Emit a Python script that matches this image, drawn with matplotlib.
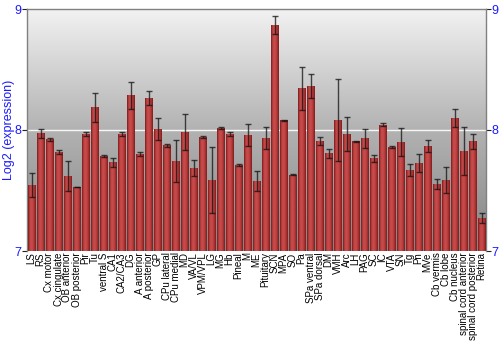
import numpy as np
import matplotlib
matplotlib.use("Agg")
import matplotlib.pyplot as plt
from matplotlib.colors import LinearSegmentedColormap

regions = ["LS", "RS", "Cx motor", "Cx cingulate", "OB anterior", "OB posterior", "Pir", "Tu",
           "ventral S", "CA1", "CA2/CA3", "DG", "A anterior", "A posterior", "GP", "CPu lateral",
           "CPu medial", "MD", "VA/VL", "VPM/VPL", "LG", "MG", "Hb", "Pineal", "M", "ME",
           "Pituitary", "SCN", "MPA", "SO", "Pa", "SPa ventral", "SPa dorsal", "DM", "VMH", "Arc",
           "LH", "PAG", "SC", "IC", "VTA", "SN", "Tg", "Pn", "MVe", "Cb vermis", "Cb lobe",
           "Cb nucleus", "spinal cord anterior", "spinal cord posterior", "Retina"]
values = [7.545, 7.973, 7.923, 7.818, 7.62, 7.529, 7.967, 8.188,
          7.785, 7.733, 7.967, 8.287, 7.80, 8.264, 8.008, 7.873,
          7.744, 7.983, 7.686, 7.94, 7.587, 8.017, 7.967, 7.711, 7.961, 7.579,
          7.937, 8.865, 8.08, 7.631, 8.344, 8.364, 7.909, 7.807, 8.08, 7.967,
          7.906, 7.931, 7.766, 8.044, 7.86, 7.898, 7.669, 7.727, 7.868, 7.556, 7.587,
          8.099, 7.826, 7.906, 7.273]
errors = [0.10, 0.037, 0.012, 0.015, 0.12, 0.004, 0.02, 0.12,
          0.01, 0.035, 0.02, 0.113, 0.015, 0.06, 0.092, 0.01,
          0.17, 0.15, 0.065, 0.01, 0.27, 0.005, 0.015, 0.01, 0.09, 0.083,
          0.09, 0.074, 0.005, 0.005, 0.176, 0.10, 0.03, 0.04, 0.34, 0.14,
          0.003, 0.076, 0.03, 0.01, 0.005, 0.115, 0.047, 0.072, 0.05, 0.04, 0.107,
          0.073, 0.2, 0.062, 0.045]
yticks = [7, 8, 9]

fig = plt.figure(figsize=(5, 3.5), dpi=100)
ax = fig.add_axes([27/500, 1-251/350, 459/500, 242/350])
ax.set_xlim(-0.5, len(regions) - 0.5)
ax.set_ylim(7, 9)

# background gradient
bg = LinearSegmentedColormap.from_list("bg", ["#848484", "#b2b2b2", "#f2f2f2"])
grad = np.linspace(0, 1, 256).reshape(-1, 1)
ax.imshow(grad, cmap=bg, aspect="auto", extent=[0, 1, 0, 1], origin="lower",
          transform=ax.transAxes, zorder=0)
ax.axhline(8, color="white", lw=1.0, alpha=0.9, zorder=1)

x = np.arange(len(regions))
bars = ax.bar(x, np.array(values) - 7, bottom=7, width=0.88, color="#b33535",
              edgecolor="none", zorder=2)
barcm = LinearSegmentedColormap.from_list("bar", ["#7a1a1a", "#c24646", "#c84c4c", "#b33838", "#7e1c1c"])
hgrad = np.linspace(0, 1, 64).reshape(1, -1)
for b in bars:
    x0, y0 = b.get_x(), b.get_y()
    im = ax.imshow(hgrad, cmap=barcm, aspect="auto",
                   extent=[x0, x0 + b.get_width(), y0, y0 + b.get_height()],
                   zorder=3, interpolation="bilinear")
    im.set_clip_path(b)
ax.set_xlim(-0.5, len(regions) - 0.5)
ax.set_ylim(7, 9)

ax.errorbar(x, values, yerr=errors, fmt="none", ecolor="#111111", elinewidth=1.0,
            capsize=2.2, capthick=1.0, alpha=0.75, zorder=4)

for s in ["left", "top", "right"]:
    ax.spines[s].set_color("#808080")
    ax.spines[s].set_linewidth(1.0)
ax.spines["bottom"].set_visible(False)

ax.set_yticks(yticks)
ax.set_yticklabels([str(t) for t in yticks])
ax.tick_params(axis="y", which="both", left=True, right=True, labelleft=True, labelright=True,
               direction="out", length=3.5, color="#222222", labelcolor="#1a1aff",
               labelsize=9, pad=0.5)
for lab in ax.get_yticklabels():
    lab.set_family("Liberation Sans")
ax.set_xticks(x)
ax.set_xticklabels(regions, rotation=90, fontsize=7, family="Liberation Sans", color="black")
ax.tick_params(axis="x", length=0, pad=1)
ax.set_ylabel("Log2 (expression)", color="#1a1aff", fontsize=9, family="Liberation Sans")
ax.yaxis.set_label_coords(-0.027, 0.5)

fig.savefig("out.png", dpi=100)
